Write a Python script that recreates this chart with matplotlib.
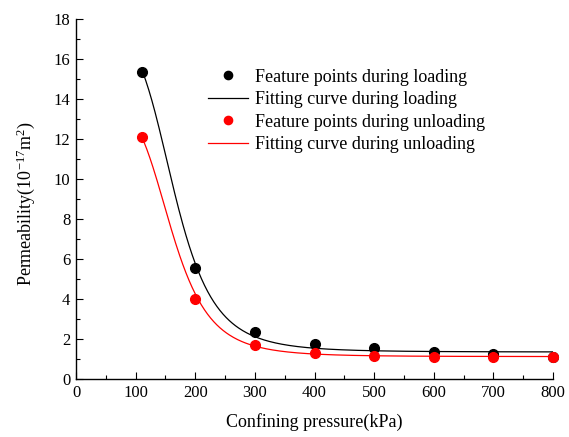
import numpy as np
import matplotlib
matplotlib.use("Agg")
import matplotlib.pyplot as plt
from matplotlib.ticker import MultipleLocator

plt.rcParams['font.family'] = ['Liberation Serif', 'DejaVu Serif']
plt.rcParams['mathtext.fontset'] = 'custom'
plt.rcParams['mathtext.rm'] = 'Liberation Serif'
plt.rcParams['mathtext.it'] = 'Liberation Serif:italic'

# confining pressure (kPa)
pressure = [110, 200, 300, 400, 500, 600, 700, 800]
# permeability (10^-17 m^2)
perm_loading = [15.37, 5.55, 2.37, 1.75, 1.57, 1.37, 1.23, 1.08]
perm_unloading = [12.1, 3.98, 1.72, 1.28, 1.13, 1.09, 1.11, 1.1]

# logistic fit parameters: A1, A2, x0, p
fit_loading = [17.35, 1.35, 165.0, 5.0]
fit_unloading = [13.82, 1.12, 160.0, 5.0]


def logistic(x, a1, a2, x0, p):
    return a2 + (a1 - a2) / (1 + (x / x0) ** p)


xs = np.linspace(pressure[0], pressure[-1], 400)

fig = plt.figure(figsize=(5.69, 4.37), dpi=100)
ax = fig.add_axes([0.1336, 0.1327, 0.8384, 0.8238])

ax.plot(xs, logistic(xs, *fit_loading), color='black', lw=0.9,
        label='Fitting curve during loading', zorder=2)
ax.plot(xs, logistic(xs, *fit_unloading), color='red', lw=0.9,
        label='Fitting curve during unloading', zorder=2)
ax.plot(pressure, perm_loading, 'o', color='black', markersize=7,
        label='Feature points during loading', clip_on=False, zorder=3)
ax.plot(pressure, perm_unloading, 'o', color='red', markersize=7,
        label='Feature points during unloading', clip_on=False, zorder=3)

ax.set_xlim(0, 800)
ax.set_ylim(0, 18)
ax.xaxis.set_major_locator(MultipleLocator(100))
ax.xaxis.set_minor_locator(MultipleLocator(50))
ax.yaxis.set_major_locator(MultipleLocator(2))
ax.yaxis.set_minor_locator(MultipleLocator(1))
ax.tick_params(which='major', direction='in', length=5, width=0.8,
               labelsize=12, pad=4)
ax.tick_params(which='minor', direction='in', length=3, width=0.8)
for side in ('top', 'right'):
    ax.spines[side].set_visible(False)
for side in ('left', 'bottom'):
    ax.spines[side].set_linewidth(1.0)

ax.set_xlabel('Confining pressure(kPa)', fontsize=13, labelpad=9)
ax.set_ylabel(r'Permeability(10$^{-17}$m$^2$)', fontsize=13, labelpad=12)
ax.yaxis.label.set_y(0.486)

handles, labels = ax.get_legend_handles_labels()
order = [2, 0, 3, 1]
ax.legend([handles[i] for i in order], [labels[i] for i in order],
          loc='upper left', bbox_to_anchor=(0.2767, 0.862), frameon=False,
          borderaxespad=0, borderpad=0,
          fontsize=13, markerscale=0.85, handlelength=2.2, handletextpad=0.4,
          labelspacing=0.3)

fig.savefig('out.png', dpi=100)
